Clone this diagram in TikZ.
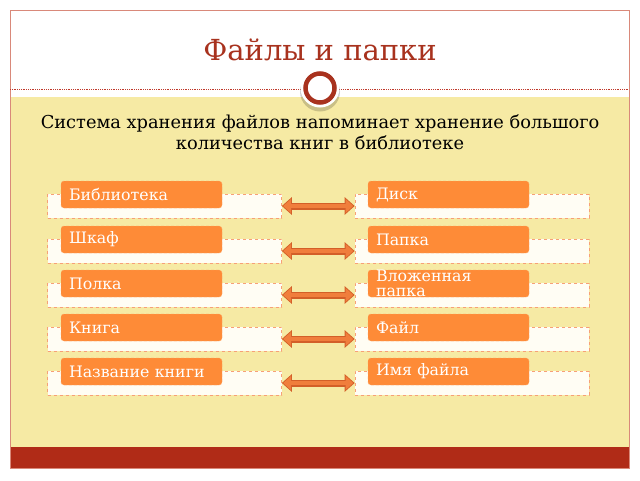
\documentclass[tikz,border=0pt]{standalone}
\usepackage{fontspec}
\setmainfont{DejaVu Serif}
\usetikzlibrary{arrows.meta}
\definecolor{titlered}{HTML}{A8321E}
\definecolor{dotred}{HTML}{C0392B}
\definecolor{framered}{HTML}{D9897A}
\definecolor{bgyellow}{HTML}{F6EAA4}
\definecolor{barred}{HTML}{B02B17}
\definecolor{boxorange}{HTML}{FE8B37}
\definecolor{arroworange}{HTML}{F07E3C}
\definecolor{arrowdark}{HTML}{D35F28}
\definecolor{boxfill}{HTML}{FFFDF4}
\definecolor{boxline}{HTML}{F7A077}
\tikzset{
  wbox/.style={draw=boxline, dashed, fill=boxfill, minimum width=234pt, minimum height=24pt, inner sep=0pt, line width=0.6pt},
  obox/.style={fill=boxorange, draw=boxorange!80!white, densely dashed, line width=0.4pt, rounded corners=3pt, minimum height=27pt, text width=145pt, inner xsep=8pt, inner ysep=0pt, text=white, align=left, font=\fontsize{15.8}{14.5}\selectfont},
  darrowout/.style={arrowdark, line width=7pt, {Triangle[width=17pt,length=10pt]}-{Triangle[width=17pt,length=10pt]}},
  darrowin/.style={arroworange, line width=4.6pt, shorten >=1.4pt, shorten <=1.4pt, {Triangle[width=13.5pt,length=7.8pt]}-{Triangle[width=13.5pt,length=7.8pt]}}
}
\begin{document}
\begin{tikzpicture}[x=1pt,y=-1pt]
\useasboundingbox (0,0) rectangle (640,480);
\fill[white] (0,0) rectangle (640,480);
\fill[bgyellow] (10,97) rectangle (629,447);
\fill[barred] (10,447) rectangle (629,468);
\draw[framered, line width=1pt] (10,10) rectangle (629,468);
\draw[dotred, densely dotted, line width=0.8pt] (10,89) -- (629,89);
\fill[black, opacity=0.18] (320,91.5) circle (20);
\fill[white] (320,88) circle (19.5);
\draw[titlered, line width=4.5pt] (320,88) circle (14.5);
\node[text=titlered, font=\fontsize{29}{32}\selectfont] (title) at (320,50) {Файлы и папки};
\node[align=center, font=\fontsize{17.8}{21}\selectfont] (sub) at (320,132.5) {Система хранения файлов напоминает хранение большого\\количества книг в библиотеке};
\foreach \i/\t/\a/\b in {1/181/Библиотека/Диск, 2/226/Шкаф/Папка, 3/270/Полка/{Вложенная\\папка}, 4/314/Книга/Файл, 5/358/Название книги/Имя файла}{
  \node[wbox] (L\i) at (164.5,\t+25) {};
  \node[wbox] (R\i) at (472,\t+25) {};
  \node[obox] (OL\i) at (141.5,\t+13.5) {\a};
  \node[obox] (OR\i) at (448.5,\t+13.5) {\b};
  \draw[darrowout] (L\i.east) -- (R\i.west);
  \draw[darrowin] (L\i.east) -- (R\i.west);
}
\end{tikzpicture}
\end{document}
